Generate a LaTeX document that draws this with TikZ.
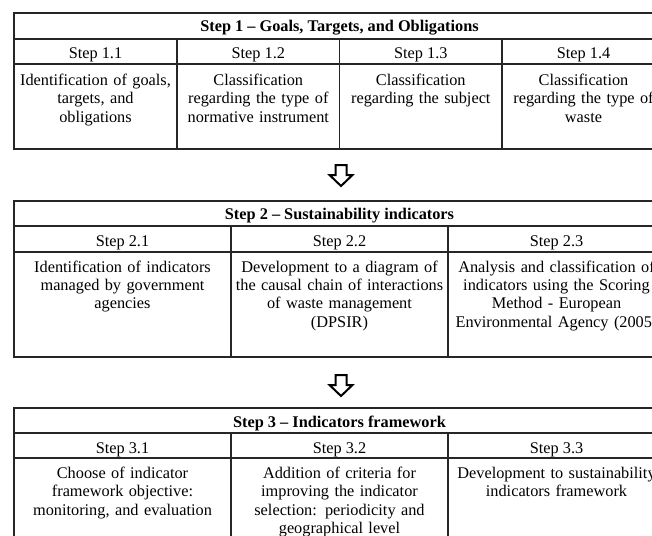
\documentclass[tikz,border=0pt]{standalone}
\usepackage{fontspec}
\setmainfont{Liberation Serif}
\begin{document}
\begin{tikzpicture}[x=1pt,y=-1pt,
  rule/.style={line width=1.7pt, draw=black!85},
  frame/.style={line width=2pt, draw=black!85},
  txt/.style={anchor=base, inner sep=0pt, font=\fontsize{16.3}{18.4}\selectfont},
  cell/.style={txt, align=center, text width=#1},
  cell/.default=215pt,
  heading/.style={txt, font=\fontsize{16.3}{18.4}\selectfont\bfseries},
  downarrow/.pic={\draw[line width=2pt, line join=miter]
    (-5.5,0) -- (5.5,0) -- (5.5,10) -- (11.5,10) -- (0,21) -- (-11.5,10) -- (-5.5,10) -- cycle;}]
\path[use as bounding box] (0,0) rectangle (652,535);
\clip (0,0) rectangle (652,535);

% ---- Step 1 ----
\draw[frame] (14,12.7) rectangle (665,149);
\draw[rule] (14,38.7) -- (665,38.7);
\draw[rule] (14,64) -- (665,64);
\draw[rule] (177,38.7) -- (177,149);
\draw[rule] (339.5,38.7) -- (339.5,149);
\draw[rule] (502,38.7) -- (502,149);
\node[heading] (t1) at (339.5,32) {Step 1 – Goals, Targets, and Obligations};
\node[txt] (h11) at (95.5,58) {Step 1.1};
\node[txt] (h12) at (258.3,58) {Step 1.2};
\node[txt] (h13) at (420.8,58) {Step 1.3};
\node[txt] (h14) at (583.5,58) {Step 1.4};
\node[cell=160pt] (b11) at (95.5,85.5) {Identification of goals,\\targets, and\\obligations};
\node[cell=160pt] (b12) at (258.3,85.5) {Classification\\regarding the type of\\normative instrument};
\node[cell=160pt] (b13) at (420.8,85.5) {Classification\\regarding the subject};
\node[cell=160pt] (b14) at (583.5,85.5) {Classification\\regarding the type of\\waste};

\pic at (341,165) {downarrow};

% ---- Step 2 ----
\draw[frame] (14,200.7) rectangle (665,356.7);
\draw[rule] (14,226) -- (665,226);
\draw[rule] (14,252) -- (665,252);
\draw[rule] (231,226) -- (231,356.7);
\draw[rule] (448,226) -- (448,356.7);
\node[heading] (t2) at (339.5,219.5) {Step 2 – Sustainability indicators};
\node[txt] (h21) at (122.5,246.5) {Step 2.1};
\node[txt] (h22) at (339.5,246.5) {Step 2.2};
\node[txt] (h23) at (556.5,246.5) {Step 2.3};
\node[cell] (b21) at (122.5,272) {Identification of indicators\\managed by government\\agencies};
\node[cell] (b22) at (339.5,272) {Development to a diagram of\\the causal chain of interactions\\of waste management\\(DPSIR)};
\node[cell] (b23) at (556.5,272) {Analysis and classification of\\indicators using the Scoring\\Method - European\\Environmental Agency (2005)};

\pic at (341,375) {downarrow};

% ---- Step 3 ----
\draw[frame] (14,408.3) rectangle (665,600);
\draw[rule] (14,432.7) -- (665,432.7);
\draw[rule] (14,458.3) -- (665,458.3);
\draw[rule] (231,432.7) -- (231,600);
\draw[rule] (448,432.7) -- (448,600);
\node[heading] (t3) at (339.5,427) {Step 3 – Indicators framework};
\node[txt] (h31) at (122.5,453) {Step 3.1};
\node[txt] (h32) at (339.5,453) {Step 3.2};
\node[txt] (h33) at (556.5,453) {Step 3.3};
\node[cell] (b31) at (122.5,478.5) {Choose of indicator\\framework objective:\\monitoring, and evaluation};
\node[cell] (b32) at (339.5,478.5) {Addition of criteria for\\improving the indicator\\selection: periodicity and\\geographical level};
\node[cell] (b33) at (556.5,478.5) {Development to sustainability\\indicators framework};
\end{tikzpicture}
\end{document}
